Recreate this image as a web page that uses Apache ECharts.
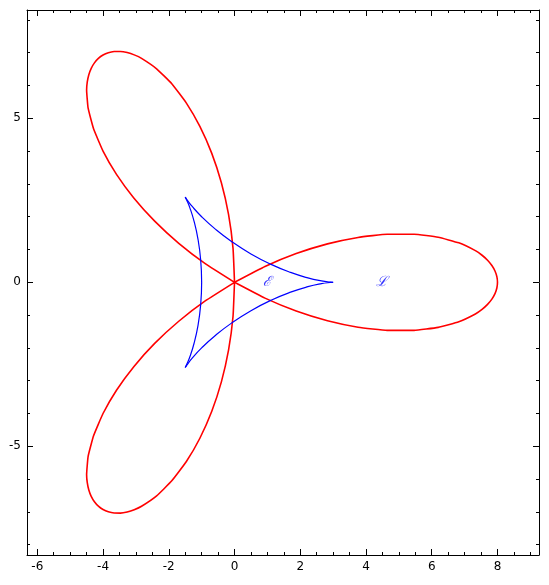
<!DOCTYPE html>
<html>
<head>
<meta charset="utf-8">
<script src="https://cdn.jsdelivr.net/npm/echarts@6/dist/echarts.min.js"></script>
<style>html,body{margin:0;padding:0;background:#fff}#c{width:549px;height:585px}</style>
</head>
<body>
<div id="c"></div>
<script>
// Red three-petal curve, one loop per petal (each starts and ends at the origin)
const petalRight = [
  [0, 0], [0.92622, -0.48216], [1.87655, -0.87505], [2.82843, -1.17157], [3.75877, -1.36808], [4.64469, -1.46446],
  [5.46410, -1.46410], [6.19638, -1.37370], [6.82295, -1.20308], [7.32781, -0.96472], [7.53041, -0.82471],
  [7.69801, -0.67349], [7.82948, -0.51317], [7.92401, -0.34597], [7.98097, -0.17415], [8, 0],
  [7.98097, 0.17415], [7.92401, 0.34597], [7.82948, 0.51317], [7.69801, 0.67349], [7.53041, 0.82471],
  [7.32781, 0.96472], [6.82295, 1.20308], [6.19638, 1.37370], [5.46410, 1.46410], [4.64469, 1.46446],
  [3.75877, 1.36808], [2.82843, 1.17157], [1.87655, 0.87505], [0.92622, 0.48216], [0, 0]
];
const petalUpper = [
  [0, 0], [-0.04554, 1.04321], [-0.18046, 2.06267], [-0.39960, 3.03528], [-0.69460, 3.93923], [-1.05409, 4.75464],
  [-1.46410, 5.46410], [-1.90853, 6.05308], [-2.36958, 6.51039], [-2.82844, 6.82843], [-3.05099, 6.93388],
  [-3.26575, 7.00342], [-3.47032, 7.03712], [-3.66239, 7.03538], [-3.83967, 6.99880], [-4, 6.92820],
  [-4.14131, 6.82464], [-4.26163, 6.68940], [-4.35916, 6.52394], [-4.43227, 6.32992], [-4.47943, 6.10916],
  [-4.49938, 5.86371], [-4.45338, 5.30731], [-4.28785, 4.67938], [-4, 4], [-3.59061, 3.29018],
  [-3.06418, 2.57115], [-2.42882, 1.86370], [-1.69610, 1.18761], [-0.88068, 0.56105], [0, 0]
];
const petalLower = [
  [0, 0], [-0.04554, -1.04321], [-0.18046, -2.06267], [-0.39960, -3.03528], [-0.69460, -3.93923], [-1.05409, -4.75464],
  [-1.46410, -5.46410], [-1.90853, -6.05308], [-2.36958, -6.51039], [-2.82844, -6.82843], [-3.05099, -6.93388],
  [-3.26575, -7.00342], [-3.47032, -7.03712], [-3.66239, -7.03538], [-3.83967, -6.99880], [-4, -6.92820],
  [-4.14131, -6.82464], [-4.26163, -6.68940], [-4.35916, -6.52394], [-4.43227, -6.32992], [-4.47943, -6.10916],
  [-4.49938, -5.86371], [-4.45338, -5.30731], [-4.28785, -4.67938], [-4, -4], [-3.59061, -3.29018],
  [-3.06418, -2.57115], [-2.42882, -1.86370], [-1.69610, -1.18761], [-0.88068, -0.56105], [0, 0]
];
// Blue three-cusped curve, cusp to cusp
const deltoidArc1 = [
  [3, 0], [2.909, 0.005], [2.645, 0.041], [2.232, 0.134], [1.706, 0.301], [1.112, 0.547], [0.5, 0.866],
  [-0.082, 1.237], [-0.592, 1.628], [-1, 2], [-1.287, 2.312], [-1.450, 2.522], [-1.5, 2.598]
];
const deltoidArc2 = [
  [-1.5, 2.598], [-1.459, 2.517], [-1.358, 2.270], [-1.232, 1.866], [-1.113, 1.327], [-1.030, 0.689], [-1, 0],
  [-1.030, -0.689], [-1.113, -1.327], [-1.232, -1.866], [-1.358, -2.270], [-1.459, -2.517], [-1.5, -2.598]
];
const deltoidArc3 = [
  [-1.5, -2.598], [-1.450, -2.522], [-1.287, -2.312], [-1, -2], [-0.592, -1.628], [-0.082, -1.237], [0.5, -0.866],
  [1.112, -0.547], [1.706, -0.301], [2.232, -0.134], [2.645, -0.041], [2.909, -0.005], [3, 0]
];
const curveLabels = [[1, 0, 'ℰ'], [4.5, 0, 'ℒ']];

const xMajor = [-6, -4, -2, 0, 2, 4, 6, 8];
const xMinor = [-6, -5.5, -5, -4.5, -4, -3.5, -3, -2.5, -2, -1.5, -1, -0.5, 0, 0.5, 1, 1.5, 2, 2.5, 3, 3.5, 4, 4.5, 5, 5.5, 6, 6.5, 7, 7.5, 8, 8.5, 9];
const yMajor = [-5, 0, 5];
const yMinor = [-8, -7, -6, -5, -4, -3, -2, -1, 0, 1, 2, 3, 4, 5, 6, 7, 8];
const xRange = [-6.313, 9.263];
const yRange = [-8.314, 8.302];

const lineStyleAxis = { show: true, onZero: false, lineStyle: { color: '#000', width: 1 } };
function ax(range, pos, ticks, len, labels, line) {
  return {
    type: 'value', position: pos, min: range[0], max: range[1],
    axisLine: line ? lineStyleAxis : { show: false, onZero: false },
    axisTick: { show: true, inside: true, length: len, customValues: ticks, lineStyle: { color: '#000', width: 1 } },
    axisLabel: labels ? { show: true, customValues: ticks, color: '#000', fontSize: 12, fontFamily: 'DejaVu Sans', margin: 6 } : { show: false },
    splitLine: { show: false }
  };
}

const chart = echarts.init(document.getElementById('c'), null, { renderer: 'canvas' });
const petalStyle = { color: '#ff0000', width: 1.6 };
const arcStyle = { color: '#0000ff', width: 1.2 };
chart.setOption({
  animation: false,
  backgroundColor: '#fff',
  grid: { left: 27, top: 10, width: 512, height: 545, containLabel: false },
  xAxis: [
    ax(xRange, 'bottom', xMajor, 6, true, true),
    ax(xRange, 'bottom', xMinor, 3, false, false),
    ax(xRange, 'top', xMajor, 6, false, true),
    ax(xRange, 'top', xMinor, 3, false, false)
  ],
  yAxis: [
    ax(yRange, 'left', yMajor, 6, true, true),
    ax(yRange, 'left', yMinor, 3, false, false),
    ax(yRange, 'right', yMajor, 6, false, true),
    ax(yRange, 'right', yMinor, 3, false, false)
  ],
  series: [
    { type: 'line', data: petalRight, smooth: 0.12, symbol: 'none', lineStyle: petalStyle, z: 2 },
    { type: 'line', data: petalUpper, smooth: 0.12, symbol: 'none', lineStyle: petalStyle, z: 2 },
    { type: 'line', data: petalLower, smooth: 0.12, symbol: 'none', lineStyle: petalStyle, z: 2 },
    { type: 'line', data: deltoidArc1, smooth: 0.5, symbol: 'none', lineStyle: arcStyle, z: 3 },
    { type: 'line', data: deltoidArc2, smooth: 0.5, symbol: 'none', lineStyle: arcStyle, z: 3 },
    { type: 'line', data: deltoidArc3, smooth: 0.5, symbol: 'none', lineStyle: arcStyle, z: 3 },
    {
      type: 'scatter', data: curveLabels, symbolSize: 0, z: 4,
      label: { show: true, position: 'inside', formatter: p => p.data[2], color: '#0000ff', fontSize: 14, fontStyle: 'italic', fontFamily: 'DejaVu Serif' }
    }
  ]
});
</script>
</body>
</html>
